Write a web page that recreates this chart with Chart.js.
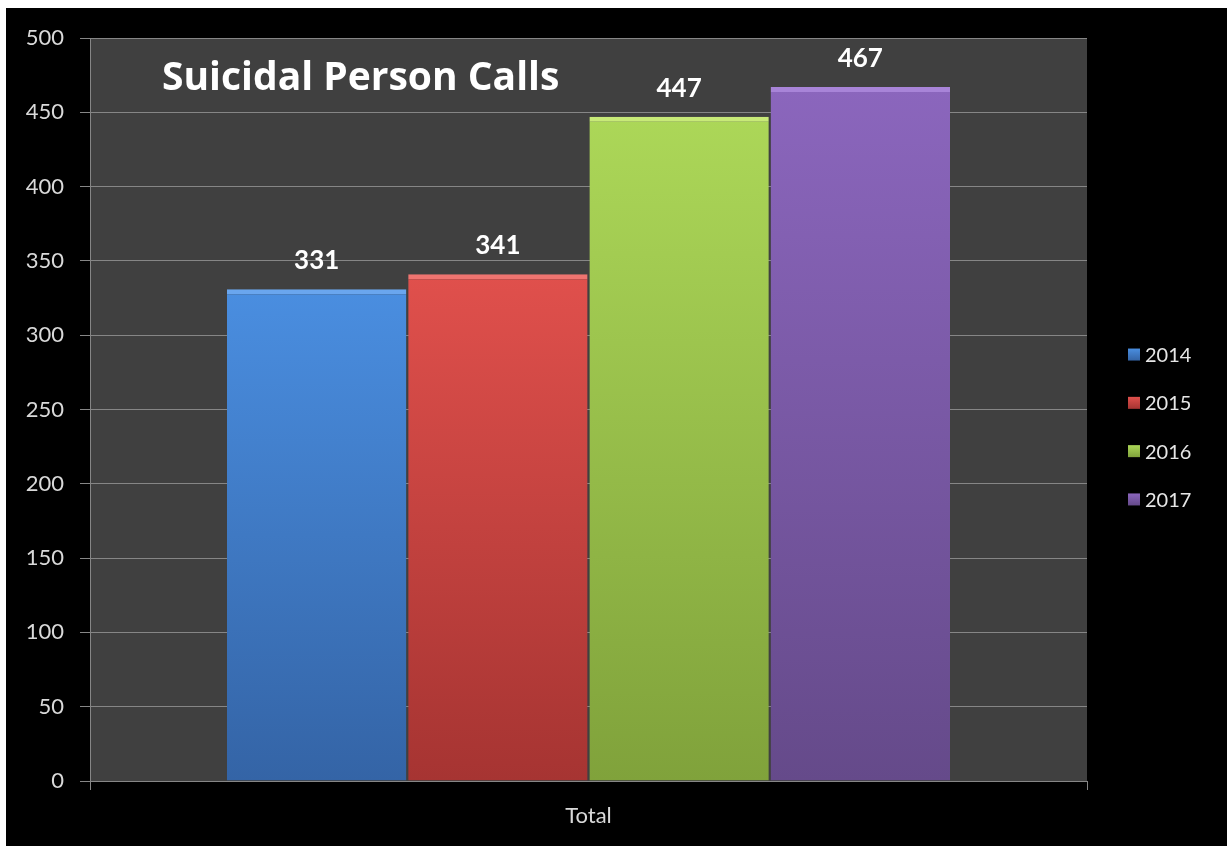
<!DOCTYPE html>
<html><head><meta charset="utf-8">
<script src="https://cdn.jsdelivr.net/npm/chart.js@4"></script>
<style>
html,body{margin:0;padding:0;background:#fff;}
#wrap{position:absolute;left:6px;top:8px;width:1221px;height:838px;background:#000;}
</style></head><body>
<div id="wrap"><canvas id="c" width="1221" height="838"></canvas></div>
<script>
const categories = ['Total'];
const seriesNames = ['2014', '2015', '2016', '2017'];
const values2014 = [331];
const values2015 = [341];
const values2016 = [447];
const values2017 = [467];
const yTicks = [0, 50, 100, 150, 200, 250, 300, 350, 400, 450, 500];
const titleText = 'Suicidal Person Calls';

const topColors = ['#4a8ee0', '#e0504c', '#acd758', '#8b66bd'];
const bottomColors = ['#3464a6', '#a63432', '#80a23b', '#654a8a'];
const edgeColors = ['#6aa6ee', '#ee7470', '#c8ea78', '#a884d8'];

function grad(ctx, i) {
  const chart = ctx.chart;
  const area = chart.chartArea;
  if (!area) return topColors[i];
  const v = ctx.parsed ? ctx.parsed.y : 0;
  const y0 = chart.scales.y.getPixelForValue(v);
  const g = chart.ctx.createLinearGradient(0, y0, 0, area.bottom);
  g.addColorStop(0, topColors[i]);
  g.addColorStop(1, bottomColors[i]);
  return g;
}

const seriesValues = [values2014, values2015, values2016, values2017];
const datasets = seriesNames.map((name, i) => ({
  label: name,
  data: seriesValues[i],
  backgroundColor: (ctx) => grad(ctx, i),
  borderColor: edgeColors[i],
  borderWidth: {top: 5, left: 0, right: 0, bottom: 0},
  borderSkipped: 'start',
  barPercentage: 0.99,
  categoryPercentage: 0.727
}));

const plotBg = {
  id: 'plotBg',
  beforeDraw(chart) {
    const {ctx, chartArea: a} = chart;
    ctx.save();
    ctx.fillStyle = '#404040';
    ctx.fillRect(a.left, a.top, a.right - a.left, a.bottom - a.top);
    ctx.restore();
  }
};

const labelsPlugin = {
  id: 'labelsPlugin',
  afterDatasetsDraw(chart) {
    const ctx = chart.ctx;
    ctx.save();
    ctx.fillStyle = '#ffffff';
    ctx.font = 'bold 26px Lato';
    ctx.textAlign = 'center';
    ctx.textBaseline = 'alphabetic';
    chart.data.datasets.forEach((ds, i) => {
      const meta = chart.getDatasetMeta(i);
      meta.data.forEach((bar, j) => {
        ctx.fillText(String(ds.data[j]), bar.x, bar.y - 20);
      });
    });
    // title inside plot area
    const a = chart.chartArea;
    ctx.textAlign = 'left';
    ctx.font = 'bold 39px "Open Sans"';
    ctx.fillText(titleText, a.left + 72, a.top + 52);
    // legend
    const n = chart.data.datasets.length;
    const cy = chart.height / 2;
    const step = 48.3;
    ctx.font = '20px Lato';
    ctx.textBaseline = 'middle';
    chart.data.datasets.forEach((ds, i) => {
      const y = cy + (i - (n - 1) / 2) * step;
      const bx = 1122, size = 12;
      const g = ctx.createLinearGradient(0, y - size / 2, 0, y + size / 2);
      g.addColorStop(0, topColors[i]);
      g.addColorStop(1, bottomColors[i]);
      ctx.fillStyle = g;
      ctx.fillRect(bx, y - size / 2, size, size);
      ctx.fillStyle = '#e6e6e6';
      ctx.fillText(ds.label, 1139, y + 1);
    });
    ctx.restore();
  }
};

new Chart(document.getElementById('c'), {
  type: 'bar',
  data: { labels: categories, datasets },
  options: {
    responsive: false,
    animation: false,
    layout: { padding: { top: 30, right: 140, left: 0, bottom: 0 } },
    plugins: { legend: { display: false }, title: { display: false }, tooltip: { enabled: false } },
    scales: {
      x: {
        afterFit(s) { s.height = 65; },
        grid: { display: true, drawOnChartArea: false, tickLength: 9, color: '#868686', offset: true },
        border: { display: true, color: '#868686', width: 1 },
        ticks: { color: '#d9d9d9', font: { family: 'Lato', size: 22 }, padding: 13 }
      },
      y: {
        min: 0, max: 500,
        afterFit(s) { s.width = 84; },
        afterBuildTicks(s) { s.ticks = yTicks.map(v => ({ value: v })); },
        grid: { color: '#868686', tickLength: 10, lineWidth: 1 },
        border: { display: true, color: '#868686', width: 1 },
        ticks: { color: '#d9d9d9', font: { family: 'Lato', size: 22 }, padding: 16 }
      }
    }
  },
  plugins: [plotBg, labelsPlugin]
});
</script>
</body></html>
